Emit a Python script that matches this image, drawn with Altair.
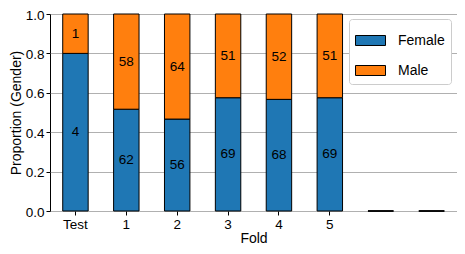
import altair as alt
import pandas as pd

folds = ["Test", "1", "2", "3", "4", "5", "6", "7"]
female = [4, 62, 56, 69, 68, 69, 0, 0]
male = [1, 58, 64, 51, 52, 51, 0, 0]
shown_ticks = ["Test", "1", "2", "3", "4", "5"]
y_ticks = [0.0, 0.2, 0.4, 0.6, 0.8, 1.0]
genders = ["Female", "Male"]
colors = ["#1f77b4", "#ff7f0e"]

rows = []
for f, a, b in zip(folds, female, male):
    rows.append({"fold": f, "gender": "Female", "count": a})
    rows.append({"fold": f, "gender": "Male", "count": b})
df = pd.DataFrame(rows)

FONT = "Liberation Sans"

base = (
    alt.Chart(df)
    .transform_joinaggregate(total="sum(count)", groupby=["fold"])
    .transform_calculate(prop="datum.total > 0 ? datum.count / datum.total : 0")
    .transform_stack(
        stack="prop",
        groupby=["fold"],
        as_=["y0", "y1"],
        sort=[alt.SortField("gender", order="ascending")],
    )
    .transform_calculate(mid="(datum.y0 + datum.y1) / 2")
)

x_scale = alt.Scale(domain=folds, paddingInner=0.5, paddingOuter=0.25)
x_axis = alt.Axis(
    values=shown_ticks,
    labelAngle=0,
    title="Fold",
    labelFontSize=13.5,
    titleFontSize=14,
    labelPadding=2,
    titlePadding=1,
    tickSize=4,
    tickColor="black",
    grid=False,
    domain=False,
    labelOverlap=False,
)

y_scale = alt.Scale(domain=[0, 1], nice=False)
y_axis = alt.Axis(
    values=y_ticks,
    format=".1f",
    title="Proportion (Gender)",
    labelFontSize=13.5,
    titleFontSize=14,
    labelPadding=2,
    titlePadding=2,
    labelOffset=1,
    tickSize=4,
    tickColor="black",
    grid=True,
    gridColor="#b0b0b0",
    gridWidth=1,
    domain=False,
    labelOverlap=False,
    labelFlush=False,
)

bars = base.mark_bar(stroke="black", strokeWidth=1).encode(
    x=alt.X("fold:N", sort=folds, scale=x_scale, axis=x_axis),
    y=alt.Y("y0:Q", scale=y_scale, axis=y_axis),
    y2="y1:Q",
    color=alt.Color(
        "gender:N",
        scale=alt.Scale(domain=genders, range=colors),
        legend=alt.Legend(
            title=None,
            orient="none",
            legendX=299,
            legendY=5,
            fillColor="white",
            strokeColor="#cccccc",
            cornerRadius=3,
            padding=6,
            symbolType="M-1,-0.333H1V0.333H-1Z",
            symbolSize=900,
            symbolStrokeColor="black",
            symbolStrokeWidth=1,
            symbolOpacity=1,
            labelFontSize=14,
            labelOffset=12,
            rowPadding=7,
        ),
    ),
)

labels = (
    base.transform_filter("datum.count > 0")
    .mark_text(fontSize=13.5, color="black", baseline="middle", font=FONT)
    .encode(
        x=alt.X("fold:N", sort=folds, scale=x_scale, axis=x_axis),
        y=alt.Y("mid:Q", scale=y_scale, axis=y_axis),
        text="count:Q",
    )
)

chart = (
    alt.layer(bars, labels)
    .properties(
        width=407,
        height=197,
        autosize=alt.AutoSizeParams(type="none"),
        padding={"left": 42, "top": 6, "right": 0, "bottom": 35},
    )
    .configure(font=FONT)
    .configure_view(stroke="black", strokeWidth=1)
    .configure_axis(labelColor="black", titleColor="black", titleFontWeight="normal", labelFont=FONT, titleFont=FONT)
    .configure_legend(labelColor="black", labelFont=FONT)
)

chart.save("out.html", embed_options={"renderer": "svg", "actions": False})
